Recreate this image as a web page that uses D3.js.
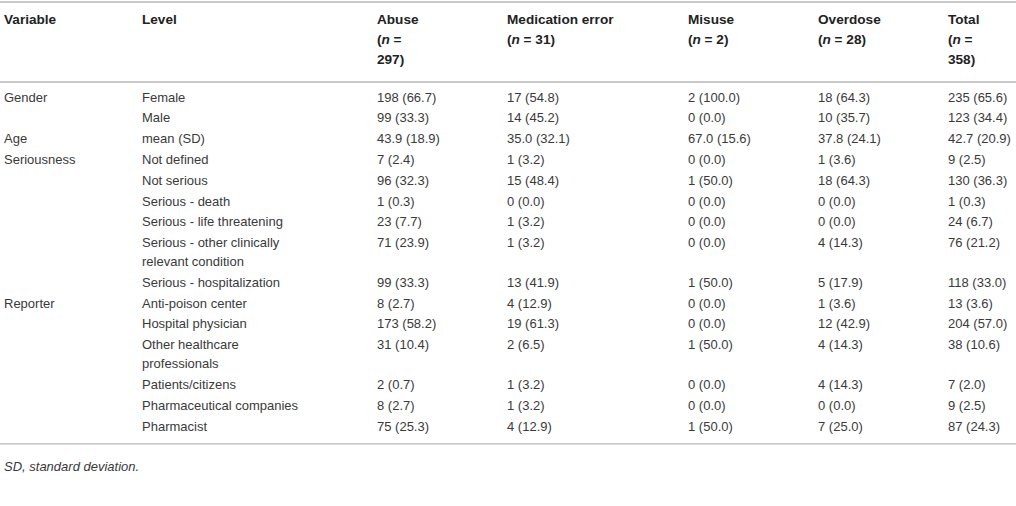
<!DOCTYPE html>
<html lang="en">
<head>
<meta charset="UTF-8">
<title>Adverse event reports by type</title>
<script src="https://d3js.org/d3.v7.min.js"></script>
<style>
  body { margin: 0; background: #fff; }
  svg text { font-family: "Liberation Sans", Arial, Helvetica, sans-serif; font-size: 13px; fill: #3a3a3a; }
  .hdr { font-weight: bold; fill: #222; font-size: 13.6px; }
  .rule { stroke: #b9b9b9; stroke-width: 1.3; }
</style>
</head>
<body>
<div id="chart"></div>
<script>
// ---- data ----
const groups = ["Abuse", "Medication error", "Misuse", "Overdose", "Total"];
const groupN = [297, 31, 2, 28, 358];

const variables = ["Gender", "", "Age", "Seriousness", "", "", "", "", "", "Reporter", "", "", "", "", ""];
const levels = [
  "Female", "Male", "mean (SD)",
  "Not defined", "Not serious", "Serious - death", "Serious - life threatening",
  "Serious - other clinically relevant condition", "Serious - hospitalization",
  "Anti-poison center", "Hospital physician", "Other healthcare professionals",
  "Patients/citizens", "Pharmaceutical companies", "Pharmacist"
];
// row 2 (Age) holds mean and SD, the rest hold count and percent
const abuse = [[198, 66.7], [99, 33.3], [43.9, 18.9], [7, 2.4], [96, 32.3], [1, 0.3], [23, 7.7], [71, 23.9], [99, 33.3],
  [8, 2.7], [173, 58.2], [31, 10.4], [2, 0.7], [8, 2.7], [75, 25.3]];
const medicationError = [[17, 54.8], [14, 45.2], [35.0, 32.1], [1, 3.2], [15, 48.4], [0, 0.0], [1, 3.2], [1, 3.2], [13, 41.9],
  [4, 12.9], [19, 61.3], [2, 6.5], [1, 3.2], [1, 3.2], [4, 12.9]];
const misuse = [[2, 100.0], [0, 0.0], [67.0, 15.6], [0, 0.0], [1, 50.0], [0, 0.0], [0, 0.0], [0, 0.0], [1, 50.0],
  [0, 0.0], [0, 0.0], [1, 50.0], [0, 0.0], [0, 0.0], [1, 50.0]];
const overdose = [[18, 64.3], [10, 35.7], [37.8, 24.1], [1, 3.6], [18, 64.3], [0, 0.0], [0, 0.0], [4, 14.3], [5, 17.9],
  [1, 3.6], [12, 42.9], [4, 14.3], [4, 14.3], [0, 0.0], [7, 25.0]];
const total = [[235, 65.6], [123, 34.4], [42.7, 20.9], [9, 2.5], [130, 36.3], [1, 0.3], [24, 6.7], [76, 21.2], [118, 33.0],
  [13, 3.6], [204, 57.0], [38, 10.6], [7, 2.0], [9, 2.5], [87, 24.3]];
const meanRow = 2;
const footnote = "SD, standard deviation.";

// ---- layout ----
const W = 1016, H = 506;
const columns = ["variable", "level", ...groups];
const colX = d3.scaleOrdinal().domain(columns).range([4, 142, 377, 507, 688, 818, 948]);
const hdrWrap = d3.scaleOrdinal().domain(groups).range([45, 120, 120, 120, 45]);
const levelWrap = 175;
const lineH = 18.9, pad = 0.95;
const topRule = 2, hdrRule = 82, bodyTop = 86.6;

const svg = d3.select("#chart").append("svg")
  .attr("width", W).attr("height", H);

// greedy word wrap using measured widths
const measure = svg.append("text").attr("visibility", "hidden");
function wrap(str, maxW, cls) {
  measure.attr("class", cls || null);
  const words = str.split(" ");
  const lines = [];
  let cur = "";
  words.forEach(w => {
    const test = cur ? cur + " " + w : w;
    measure.text(test);
    if (cur && measure.node().getComputedTextLength() > maxW) {
      lines.push(cur);
      cur = w;
    } else cur = test;
  });
  lines.push(cur);
  return lines;
}

// rules
[topRule, hdrRule].forEach(y => svg.append("line").attr("class", "rule")
  .attr("x1", 0).attr("x2", W).attr("y1", y).attr("y2", y));

// header
const hdrLine = 20, hdrFirst = 19;
const hdr = svg.append("g");
hdr.append("text").attr("class", "hdr").attr("x", colX("variable")).attr("y", hdrFirst).attr("dy", "0.35em").text("Variable");
hdr.append("text").attr("class", "hdr").attr("x", colX("level")).attr("y", hdrFirst).attr("dy", "0.35em").text("Level");

groups.forEach((g, i) => {
  const lines = [g, ...wrap(`(n = ${groupN[i]})`, hdrWrap(g), "hdr")];
  lines.forEach((ln, j) => {
    const t = hdr.append("text").attr("class", "hdr")
      .attr("x", colX(g)).attr("y", hdrFirst + j * hdrLine).attr("dy", "0.35em");
    ln.split(/(\bn\b)/).forEach(part => {
      if (!part) return;
      t.append("tspan").style("font-style", part === "n" ? "italic" : null).text(part);
    });
  });
});

// body
const series = [abuse, medicationError, misuse, overdose, total];
const fmt1 = d3.format(".1f");
const cell = (v, r) => r === meanRow ? `${fmt1(v[0])} (${fmt1(v[1])})` : `${v[0]} (${fmt1(v[1])})`;

let y = bodyTop;
const rows = levels.map((lv, r) => {
  const lines = wrap(lv, levelWrap);
  const row = { r, lines, top: y };
  y += 2 * pad + lines.length * lineH;
  return row;
});
const bodyBottom = y;

const body = svg.append("g");
const rowG = body.selectAll("g.row").data(rows).join("g").attr("class", "row")
  .attr("transform", d => `translate(0,${d.top + pad + lineH / 2})`);

rowG.append("text").attr("x", colX("variable")).attr("dy", "0.35em").text(d => variables[d.r]);

rowG.each(function(d) {
  const g = d3.select(this);
  d.lines.forEach((ln, j) => g.append("text").attr("x", colX("level")).attr("y", j * lineH).attr("dy", "0.35em").text(ln));
  groups.forEach((grp, k) => g.append("text").attr("x", colX(grp)).attr("dy", "0.35em").text(cell(series[k][d.r], d.r)));
});

svg.append("line").attr("class", "rule")
  .attr("x1", 0).attr("x2", W).attr("y1", bodyBottom + 7.5).attr("y2", bodyBottom + 7.5);

svg.append("text").attr("x", colX("variable")).attr("y", bodyBottom + 30).attr("dy", "0.35em")
  .style("font-style", "italic").text(footnote);

measure.remove();
</script>
</body>
</html>
